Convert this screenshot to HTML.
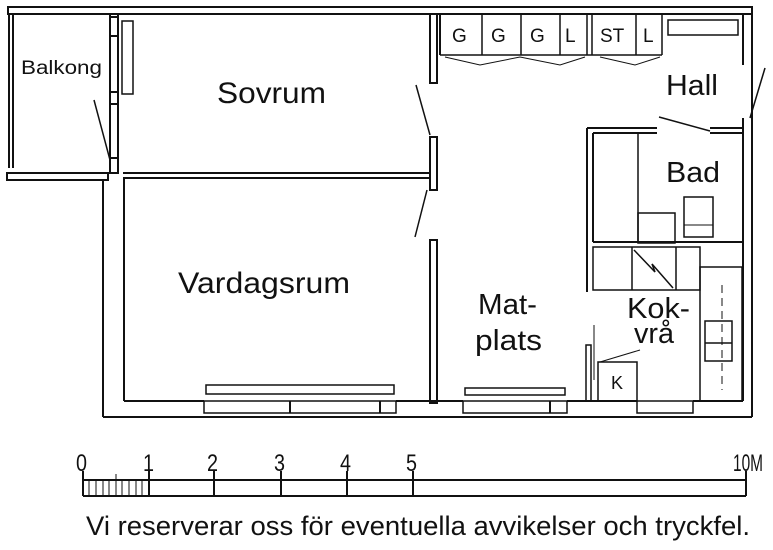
<!DOCTYPE html>
<html><head><style>
html,body{margin:0;padding:0;background:#fff;}
svg{display:block;}
text{font-family:"Liberation Sans",sans-serif;fill:#111;}
</style></head><body>
<svg width="773" height="550" viewBox="0 0 773 550" xmlns="http://www.w3.org/2000/svg">
<g fill="none" stroke="#111" stroke-width="2">
<rect x="8" y="7" width="744" height="7" fill="#fff"/>
<line x1="9" y1="14" x2="9" y2="168"/><line x1="13" y1="14" x2="13" y2="168"/>
<rect x="7" y="173" width="101" height="7"/>
<line x1="110" y1="14" x2="110" y2="173"/><line x1="118" y1="14" x2="118" y2="173"/>
<rect x="110" y="17" width="8" height="19"/><rect x="110" y="92" width="8" height="12"/><rect x="110" y="158" width="8" height="15"/>
<rect x="122" y="21" width="11" height="73" stroke-width="1.5"/>
<line x1="94" y1="100" x2="110" y2="160" stroke-width="1.5"/>
<line x1="123" y1="173" x2="430" y2="173"/><line x1="123" y1="178" x2="430" y2="178"/>
<line x1="103" y1="180" x2="103" y2="417"/><line x1="124" y1="178" x2="124" y2="401"/>
<line x1="103" y1="417" x2="752" y2="417"/>
<line x1="124" y1="401" x2="204" y2="401"/>
<line x1="396" y1="401" x2="463" y2="401"/>
<line x1="567" y1="401" x2="637" y2="401"/>
<line x1="693" y1="401" x2="743" y2="401"/>
<rect x="206" y="385" width="188" height="9" stroke-width="1.5"/>
<rect x="204" y="401" width="192" height="12" stroke-width="1.5"/>
<line x1="290" y1="401" x2="290" y2="413"/><line x1="380" y1="401" x2="380" y2="413"/>
<rect x="465" y="388" width="100" height="7" stroke-width="1.5"/>
<rect x="463" y="401" width="104" height="12" stroke-width="1.5"/>
<line x1="550" y1="401" x2="550" y2="413"/>
<rect x="637" y="401" width="56" height="12" stroke-width="1.5"/>
<rect x="430" y="14" width="7" height="69"/>
<line x1="416" y1="85" x2="430" y2="135" stroke-width="1.5"/>
<rect x="430" y="137" width="7" height="53"/>
<line x1="427" y1="190" x2="415" y2="237" stroke-width="1.5"/>
<rect x="430" y="240" width="7" height="163"/>
<line x1="440" y1="15" x2="440" y2="55"/>
<line x1="440" y1="55" x2="662" y2="55" stroke-width="1.5"/>
<line x1="482" y1="15" x2="482" y2="55" stroke-width="1.5"/>
<line x1="521" y1="15" x2="521" y2="55" stroke-width="1.5"/>
<line x1="560" y1="15" x2="560" y2="55" stroke-width="1.5"/>
<line x1="587" y1="15" x2="587" y2="55" stroke-width="1.5"/>
<line x1="592" y1="15" x2="592" y2="55" stroke-width="1.5"/>
<line x1="636" y1="15" x2="636" y2="55" stroke-width="1.5"/>
<line x1="662" y1="15" x2="662" y2="55" stroke-width="1.5"/>
<polyline points="445,57 480,65 520,57 560,65 585,57" stroke-width="1"/>
<polyline points="600,57 635,65 660,57" stroke-width="1"/>
<rect x="668" y="20" width="70" height="15" stroke-width="1.5"/>
<line x1="752" y1="7" x2="752" y2="417"/>
<line x1="743" y1="14" x2="743" y2="65"/>
<line x1="743" y1="118" x2="743" y2="401"/>
<line x1="765" y1="68" x2="750" y2="118" stroke-width="1.5"/>
<line x1="587" y1="128" x2="657" y2="128"/><line x1="593" y1="133" x2="657" y2="133"/>
<line x1="587" y1="128" x2="587" y2="292"/><line x1="593" y1="133" x2="593" y2="242"/>
<line x1="710" y1="128" x2="743" y2="128"/><line x1="710" y1="133" x2="743" y2="133"/>
<line x1="659" y1="117" x2="710" y2="131" stroke-width="1.5"/>
<line x1="638" y1="133" x2="638" y2="243" stroke-width="1.5"/>
<rect x="638" y="213" width="37" height="30" stroke-width="1.5"/>
<rect x="684" y="197" width="29" height="40" stroke-width="1.5"/>
<line x1="684" y1="225" x2="713" y2="225" stroke-width="1"/>
<line x1="593" y1="242" x2="743" y2="242"/>
<rect x="593" y="247" width="107" height="43" stroke-width="1.5"/>
<line x1="632" y1="247" x2="632" y2="290" stroke-width="1.5"/>
<line x1="676" y1="247" x2="676" y2="290" stroke-width="1.5"/>
<polyline points="634,250 655,272 652,264 673,288" stroke-width="1.5"/>
<rect x="700" y="267" width="42" height="134" stroke-width="1.5"/>
<line x1="722" y1="285" x2="722" y2="390" stroke-width="1" stroke-dasharray="8,5"/>
<rect x="705" y="321" width="27" height="40" stroke-width="1.5"/>
<line x1="705" y1="343" x2="732" y2="343" stroke-width="1.5"/>
<rect x="586" y="345" width="5" height="56" stroke-width="1.5"/>
<line x1="594" y1="325" x2="594" y2="380" stroke-width="1"/>
<rect x="598" y="362" width="39" height="39" stroke-width="1.5"/>
<line x1="600" y1="362" x2="640" y2="350" stroke-width="1"/>
<line x1="83" y1="471" x2="83" y2="496"/>
<line x1="83" y1="480" x2="746" y2="480"/>
<line x1="83" y1="496" x2="746" y2="496"/>
<line x1="149" y1="471" x2="149" y2="496"/>
<line x1="214" y1="471" x2="214" y2="496"/>
<line x1="281" y1="471" x2="281" y2="496"/>
<line x1="347" y1="471" x2="347" y2="496"/>
<line x1="413" y1="471" x2="413" y2="496"/>
<line x1="746" y1="471" x2="746" y2="496"/>
<g stroke-width="1">
<line x1="89" y1="480" x2="89" y2="496"/><line x1="96" y1="480" x2="96" y2="496"/><line x1="103" y1="480" x2="103" y2="496"/><line x1="109" y1="480" x2="109" y2="496"/><line x1="116" y1="474" x2="116" y2="496"/><line x1="122" y1="480" x2="122" y2="496"/><line x1="129" y1="480" x2="129" y2="496"/><line x1="136" y1="480" x2="136" y2="496"/><line x1="142" y1="480" x2="142" y2="496"/>
</g>
</g>
<g font-size="19">
<text x="452" y="42">G</text><text x="491" y="42">G</text><text x="530" y="42">G</text><text x="565" y="42">L</text><text x="600" y="42">ST</text><text x="643" y="42">L</text>
</g>
<text x="21" y="74" font-size="19" textLength="81" lengthAdjust="spacingAndGlyphs">Balkong</text>
<text x="217" y="103" font-size="30" textLength="109" lengthAdjust="spacingAndGlyphs">Sovrum</text>
<text x="178" y="293" font-size="30" textLength="172" lengthAdjust="spacingAndGlyphs">Vardagsrum</text>
<text x="666" y="95" font-size="29" textLength="52" lengthAdjust="spacingAndGlyphs">Hall</text>
<text x="666" y="182" font-size="29" textLength="54" lengthAdjust="spacingAndGlyphs">Bad</text>
<text x="478" y="314" font-size="29" textLength="59" lengthAdjust="spacingAndGlyphs">Mat-</text>
<text x="475" y="350" font-size="29" textLength="67" lengthAdjust="spacingAndGlyphs">plats</text>
<text x="627" y="318" font-size="29" textLength="63" lengthAdjust="spacingAndGlyphs">Kok-</text>
<text x="634" y="343" font-size="29" textLength="40" lengthAdjust="spacingAndGlyphs">vrå</text>
<text x="611" y="389" font-size="18">K</text>
<g font-size="24">
<text x="76" y="471" textLength="11" lengthAdjust="spacingAndGlyphs">0</text><text x="143" y="471" textLength="11" lengthAdjust="spacingAndGlyphs">1</text><text x="207" y="471" textLength="11" lengthAdjust="spacingAndGlyphs">2</text><text x="274" y="471" textLength="11" lengthAdjust="spacingAndGlyphs">3</text><text x="340" y="471" textLength="11" lengthAdjust="spacingAndGlyphs">4</text><text x="406" y="471" textLength="11" lengthAdjust="spacingAndGlyphs">5</text><text x="733" y="471" textLength="30" lengthAdjust="spacingAndGlyphs">10M</text>
</g>
<text x="86" y="535" font-size="27" textLength="664" lengthAdjust="spacingAndGlyphs">Vi reserverar oss för eventuella avvikelser och tryckfel.</text>
</svg>
</body></html>
